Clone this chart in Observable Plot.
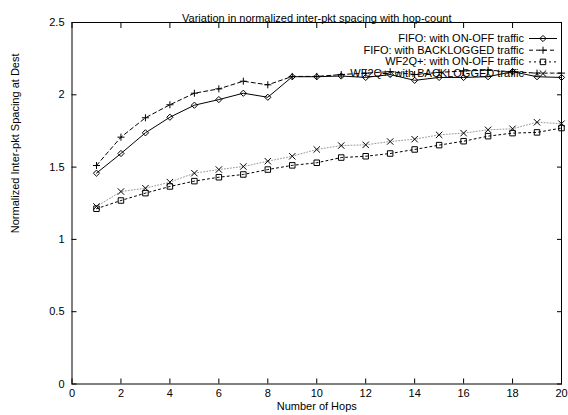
<!DOCTYPE html>
<html><head><meta charset="utf-8">
<script src="https://cdn.jsdelivr.net/npm/d3@7"></script>
<script src="https://cdn.jsdelivr.net/npm/@observablehq/plot@0.6"></script>
<style>html,body{margin:0;padding:0;background:#fff;}</style>
</head><body><div id="chart"></div>
<script>
const title = "Variation in normalized inter-pkt spacing with hop-count";
const xLabel = "Number of Hops";
const yLabel = "Normalized Inter-pkt Spacing at Dest";
const hops = [1, 2, 3, 4, 5, 6, 7, 8, 9, 10, 11, 12, 13, 14, 15, 16, 17, 18, 19, 20];
const xTicks = [0, 2, 4, 6, 8, 10, 12, 14, 16, 18, 20];
const xTickLabels = ["0", "2", "4", "6", "8", "10", "12", "14", "16", "18", "20"];
const yTicks = [0, 0.5, 1, 1.5, 2, 2.5];
const yTickLabels = ["0", "0.5", "1", "1.5", "2", "2.5"];
const seriesNames = [
  "FIFO: with ON-OFF traffic",
  "FIFO: with BACKLOGGED traffic",
  "WF2Q+: with ON-OFF traffic",
  "WF2Q+: with BACKLOGGED traffic"
];
const fifoOnOff = [1.458, 1.594, 1.737, 1.845, 1.928, 1.967, 2.011, 1.983, 2.125, 2.125, 2.13, 2.12, 2.14, 2.10, 2.12, 2.12, 2.125, 2.16, 2.125, 2.12];
const fifoBacklogged = [1.511, 1.707, 1.841, 1.931, 2.011, 2.041, 2.094, 2.069, 2.127, 2.127, 2.14, 2.15, 2.16, 2.14, 2.155, 2.165, 2.17, 2.16, 2.15, 2.15];
const wf2qOnOff = [1.212, 1.269, 1.32, 1.366, 1.403, 1.43, 1.449, 1.483, 1.512, 1.53, 1.566, 1.575, 1.594, 1.622, 1.652, 1.679, 1.714, 1.735, 1.74, 1.77];
const wf2qBacklogged = [1.228, 1.331, 1.354, 1.396, 1.458, 1.483, 1.504, 1.541, 1.575, 1.622, 1.649, 1.654, 1.677, 1.693, 1.723, 1.735, 1.758, 1.765, 1.81, 1.80];

const seriesValues = [fifoOnOff, fifoBacklogged, wf2qOnOff, wf2qBacklogged];
const seriesStyles = [
  {symbol: "diamond2", d3symbol: d3.symbolDiamond2, r: 2.8, stroke: "black", dash: null},
  {symbol: "plus", d3symbol: d3.symbolPlus, r: 2.4, stroke: "black", dash: "4,3"},
  {symbol: "square2", d3symbol: d3.symbolSquare2, r: 3.5, stroke: "black", dash: "2,3"},
  {symbol: "times", d3symbol: d3.symbolTimes, r: 3.0, stroke: "#999", dash: "1,2"}
];
const rowsFor = (vals) => hops.map((h, i) => ({hop: h, value: vals[i]}));

function legendMark(index, scales, values, dimensions) {
  const g = d3.create("svg:g");
  const right = dimensions.width - dimensions.marginRight;
  seriesNames.forEach((name, i) => {
    const st = seriesStyles[i];
    const y = dimensions.marginTop + 16.5 + i * 11.7;
    g.append("text").attr("x", right - 37).attr("y", y).attr("dy", "0.32em")
      .attr("text-anchor", "end").attr("fill", "black").text(name);
    g.append("line").attr("x1", right - 32).attr("x2", right - 4).attr("y1", y).attr("y2", y)
      .attr("stroke", st.stroke).attr("stroke-dasharray", st.dash);
    g.append("path").attr("transform", `translate(${right - 18},${y})`)
      .attr("d", d3.symbol(st.d3symbol, Math.PI * st.r * st.r)())
      .attr("fill", "none").attr("stroke", "black");
  });
  return g.node();
}

const marks = [
  Plot.frame({stroke: "black"}),
  Plot.axisX(xTicks, {anchor: "bottom", tickSize: 5, dy: -5, fill: "none", label: null}),
  Plot.axisX(xTicks, {anchor: "top", tickSize: 5, dy: 5, fill: "none", label: null}),
  Plot.axisY(yTicks, {anchor: "left", tickSize: 5, dx: 5, fill: "none", label: null}),
  Plot.axisY(yTicks, {anchor: "right", tickSize: 5, dx: -5, fill: "none", label: null}),
  Plot.axisX(xTicks, {anchor: "bottom", tickSize: 0, tickPadding: 5, label: null, fill: "black",
    tickFormat: d => xTickLabels[xTicks.indexOf(d)]}),
  Plot.axisY(yTicks, {anchor: "left", tickSize: 0, tickPadding: 7.5, label: null, fill: "black",
    tickFormat: d => yTickLabels[yTicks.indexOf(d)]}),
  Plot.text([title], {frameAnchor: "top", dy: -8.5, text: d => d, fill: "black"}),
  Plot.text([xLabel], {frameAnchor: "bottom", dy: 25.5, text: d => d, fill: "black"}),
  Plot.text([yLabel], {frameAnchor: "left", dx: -56.5, dy: 30, rotate: -90, text: d => d, fill: "black"})
];
seriesValues.forEach((vals, i) => {
  const st = seriesStyles[i];
  marks.push(Plot.line(rowsFor(vals), {x: "hop", y: "value", stroke: st.stroke, strokeWidth: 1, strokeDasharray: st.dash}));
});
seriesValues.forEach((vals, i) => {
  const st = seriesStyles[i];
  marks.push(Plot.dot(rowsFor(vals), {x: "hop", y: "value", symbol: st.symbol, r: st.r, stroke: "black", fill: "none", strokeWidth: 1}));
});
marks.push(legendMark);

const chart = Plot.plot({
  width: 568,
  height: 415,
  marginLeft: 71.5,
  marginRight: 7,
  marginTop: 22,
  marginBottom: 31.5,
  x: {domain: [0, 20], label: null},
  y: {domain: [0, 2.5], label: null},
  style: {fontFamily: "'Liberation Sans', Arial, sans-serif", fontSize: "11px", background: "white", color: "black"},
  marks
});
document.getElementById("chart").appendChild(chart);
</script>
</body></html>
